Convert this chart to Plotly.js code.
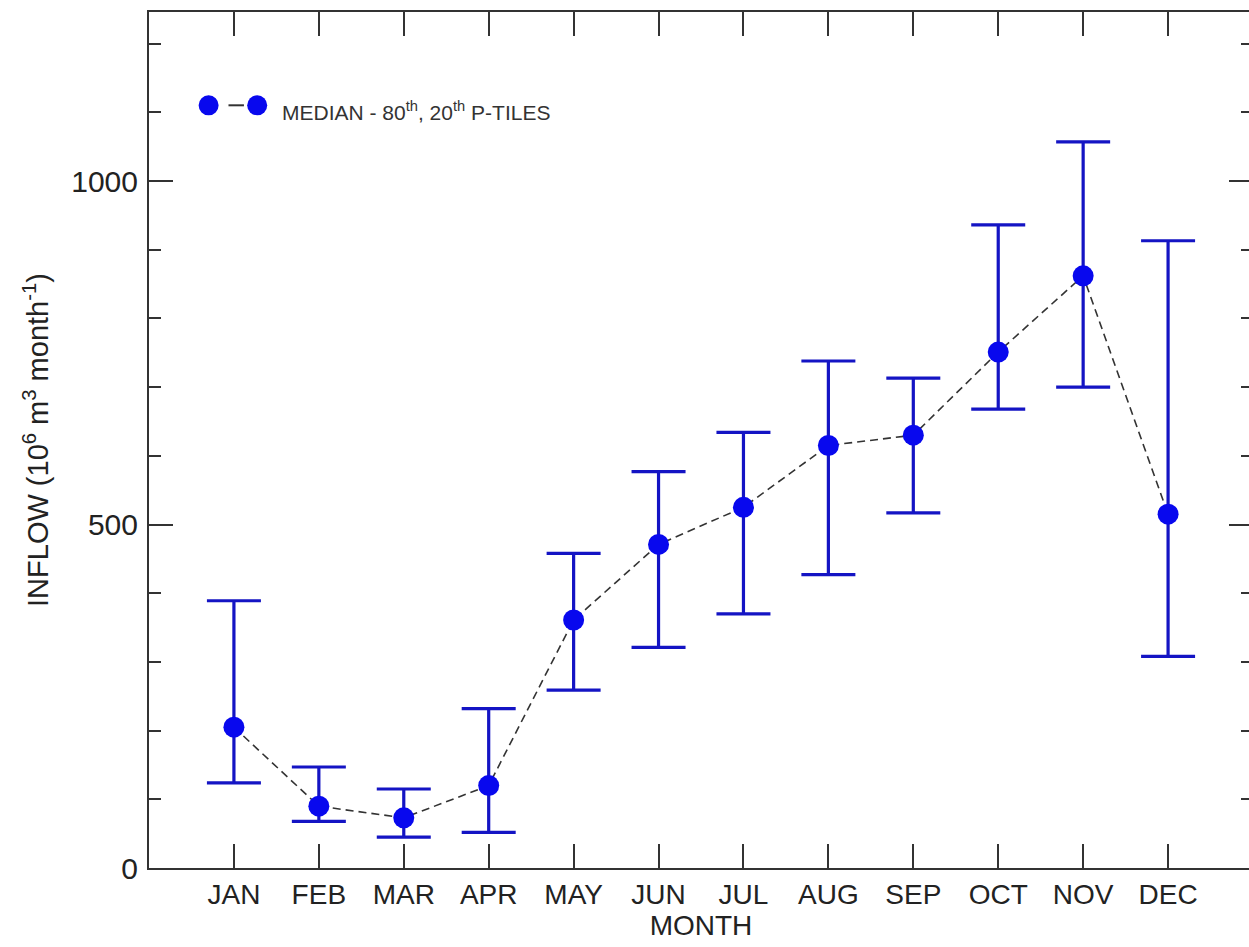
<!DOCTYPE html>
<html>
<head>
<meta charset="utf-8">
<script src="https://cdn.plot.ly/plotly-3.0.1.min.js"></script>
<style>
html,body{margin:0;padding:0;background:#fff;overflow:hidden;width:1249px;height:947px;}
#chart{width:1265px;height:947px;}
</style>
</head>
<body>
<div id="chart"></div>
<script>
const months = ["JAN","FEB","MAR","APR","MAY","JUN","JUL","AUG","SEP","OCT","NOV","DEC"];
const monthIndex = [1,2,3,4,5,6,7,8,9,10,11,12];
const median = [205, 90, 73, 120, 361, 471, 525, 615, 630, 751, 862, 515];
const p80 = [389, 147, 115, 232, 458, 577, 634, 738, 713, 936, 1057, 913];
const p20 = [124, 68, 45, 52, 259, 321, 370, 427, 517, 668, 700, 308];
const yTickVals = [0, 500, 1000];

const errPlus = p80.map((v, i) => v - median[i]);
const errMinus = median.map((v, i) => v - p20[i]);

const FONT = "Liberation Sans, Arial, Helvetica, sans-serif";
const AXC = "#333333";

const trace = {
  x: monthIndex,
  y: median,
  type: "scatter",
  mode: "lines+markers",
  line: {color: "#333333", width: 1.6, dash: "8px,5px"},
  marker: {color: "#0808ee", size: 21, symbol: "circle", line: {width: 0}},
  error_y: {
    type: "data", symmetric: false,
    array: errPlus, arrayminus: errMinus,
    color: "#1414c4", thickness: 3.2, width: 27
  },
  showlegend: false,
  hoverinfo: "x+y"
};

const layout = {
  width: 1265, height: 947,
  margin: {l: 149, r: 12, t: 12, b: 79},
  paper_bgcolor: "#ffffff",
  plot_bgcolor: "#ffffff",
  font: {family: FONT, color: "#222222", size: 28},
  showlegend: false,
  xaxis: {
    range: [0, 13],
    tickvals: monthIndex,
    ticktext: months,
    ticks: "inside", ticklen: 24, tickwidth: 2, tickcolor: AXC,
    showline: true, linecolor: AXC, linewidth: 2, mirror: "ticks",
    showgrid: false, zeroline: false,
    tickfont: {family: FONT, size: 28, color: "#222222"},
    title: {text: "MONTH", font: {family: FONT, size: 28, color: "#222222"}, standoff: 5}
  },
  yaxis: {
    range: [0, 1246],
    tickvals: yTickVals,
    ticks: "inside", ticklen: 24, tickwidth: 2, tickcolor: AXC,
    minor: {dtick: 100, ticks: "inside", ticklen: 12, tickwidth: 2, tickcolor: AXC},
    showline: true, linecolor: AXC, linewidth: 2, mirror: "ticks",
    showgrid: false, zeroline: false,
    tickfont: {family: FONT, size: 30, color: "#222222"},
    ticklabelstandoff: 3,
    title: {text: "INFLOW (10<sup>6</sup> m<sup>3</sup> month<sup>-1</sup>)", font: {family: FONT, size: 29, color: "#222222"}, standoff: 14}
  },
  shapes: [
    {type: "line", xref: "paper", yref: "paper", x0: 0.072, x1: 0.086, y0: 0.891, y1: 0.891, line: {color: "#333333", width: 2}},
    {type: "circle", xref: "paper", yref: "paper", xsizemode: "pixel", ysizemode: "pixel", xanchor: 0.054, yanchor: 0.891, x0: -10, x1: 10, y0: -10, y1: 10, fillcolor: "#0808ee", line: {width: 0}},
    {type: "circle", xref: "paper", yref: "paper", xsizemode: "pixel", ysizemode: "pixel", xanchor: 0.098, yanchor: 0.891, x0: -10, x1: 10, y0: -10, y1: 10, fillcolor: "#0808ee", line: {width: 0}}
  ],
  annotations: [
    {xref: "paper", yref: "paper", x: 0.1185, y: 0.884, xanchor: "left", yanchor: "middle", showarrow: false,
     text: "MEDIAN - 80<sup>th</sup>, 20<sup>th</sup> P-TILES", font: {family: FONT, size: 21, color: "#333333"}}
  ]
};

Plotly.newPlot("chart", [trace], layout, {displayModeBar: false, staticPlot: true});
</script>
</body>
</html>
